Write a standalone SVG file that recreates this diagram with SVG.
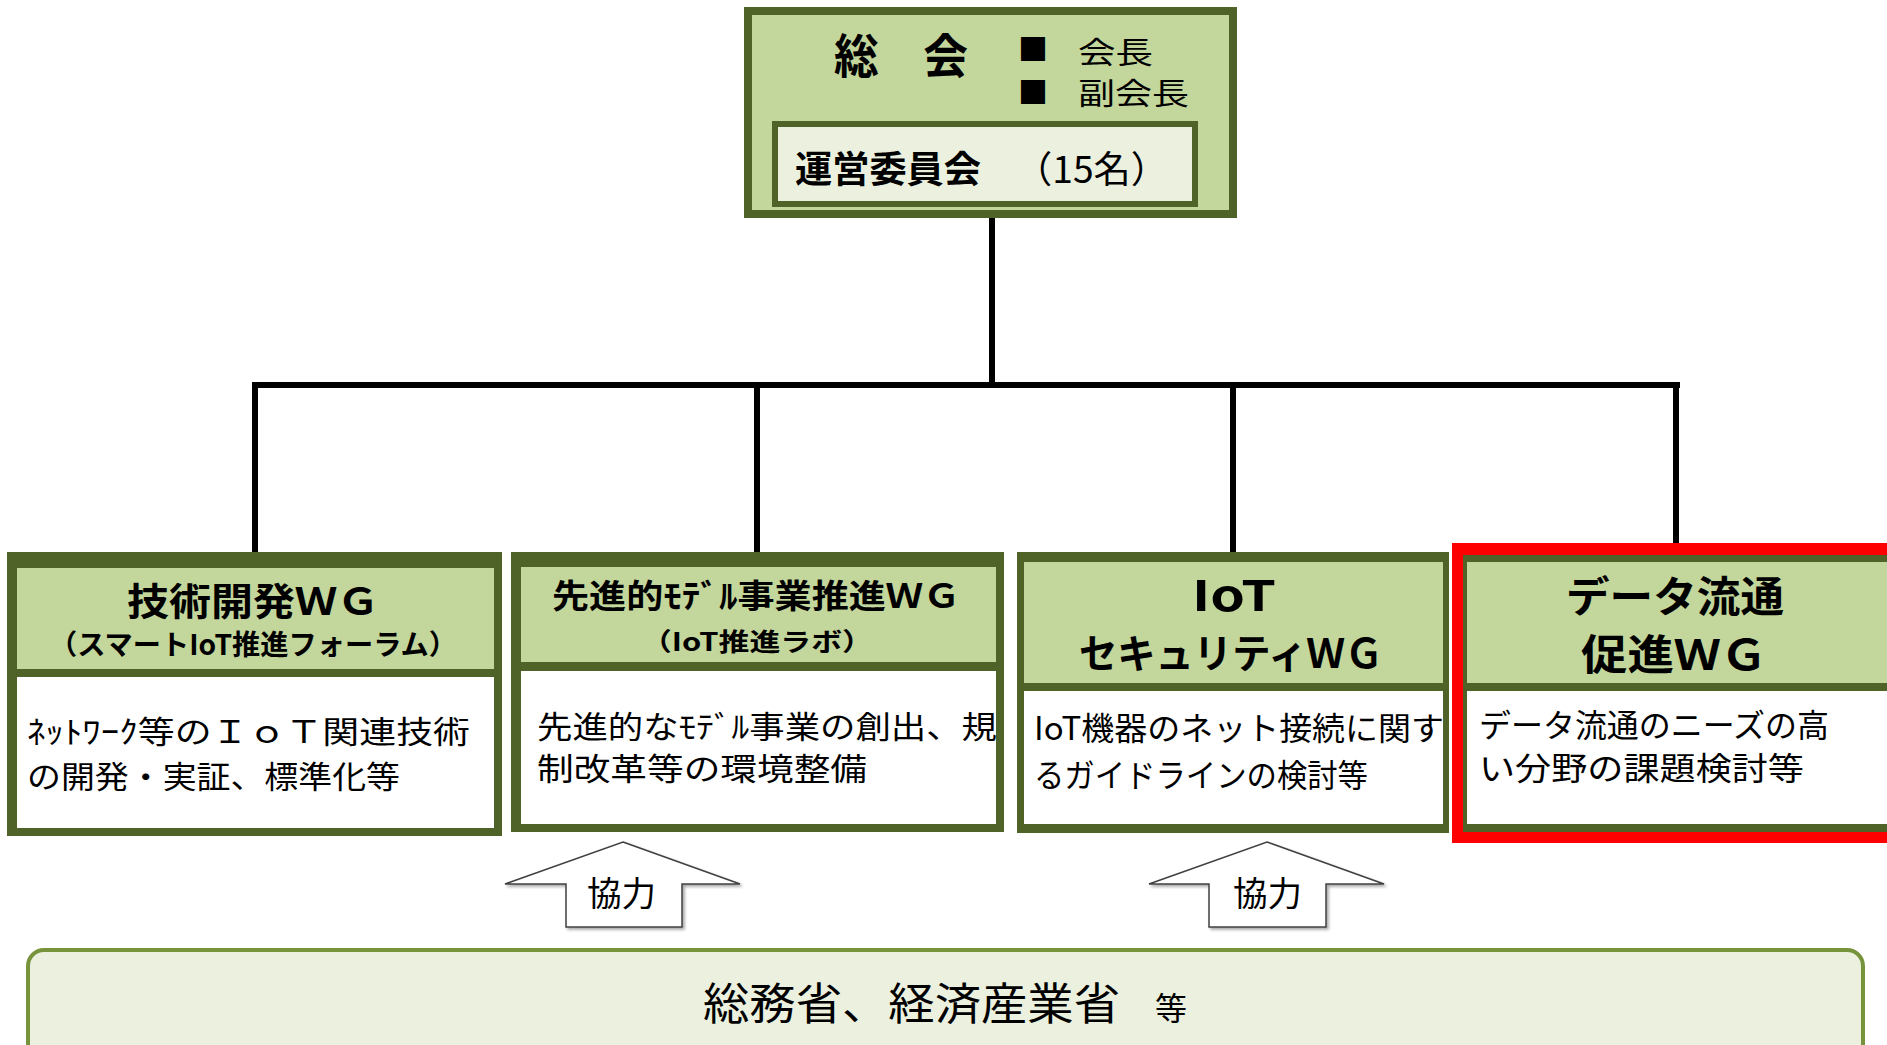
<svg xmlns="http://www.w3.org/2000/svg" width="1887" height="1045" viewBox="0 0 1887 1045">
<style>
text{font-family:"Noto Sans CJK JP","Noto Sans CJK SC",sans-serif;fill:#000}
.b{font-weight:bold}
.hdr{fill:#c3d69b}
.dk{fill:#4f6228}
.body{fill:#ffffff}
.conn{stroke:#000;stroke-width:6;fill:none;stroke-linecap:square}
.arrow{fill:#fff;stroke:#404040;stroke-width:1.5;stroke-linejoin:miter}
</style>
<defs>
<filter id="sh" x="-10%" y="-10%" width="130%" height="130%">
<feDropShadow dx="2" dy="2" stdDeviation="1.5" flood-color="#000" flood-opacity="0.35"/>
</filter>
</defs>
<rect width="1887" height="1045" fill="#fff"/>

<g id="connectors">
<path class="conn" d="M992,218 V385"/>
<path class="conn" d="M255,385 H1677"/>
<path class="conn" d="M255,385 V556"/>
<path class="conn" d="M757,385 V552"/>
<path class="conn" d="M1233,385 V552"/>
<path class="conn" d="M1676,385 V543"/>
</g>

<g id="soukai">
<rect x="748" y="11" width="485" height="203" fill="#c3d69b" stroke="#4f6228" stroke-width="8"/>
<text class="b" x="834" y="73" font-size="47" textLength="134" lengthAdjust="spacingAndGlyphs">総　会</text>
<text x="1018" y="60" font-size="30">■</text>
<text x="1018" y="103" font-size="30">■</text>
<text x="1078" y="63" font-size="30" textLength="75" lengthAdjust="spacingAndGlyphs">会長</text>
<text x="1078" y="104" font-size="30" textLength="111" lengthAdjust="spacingAndGlyphs">副会長</text>
</g>

<g id="unei">
<rect x="775" y="124" width="420" height="80" fill="#ebf1de" stroke="#4f6228" stroke-width="6"/>
<text class="b" x="795" y="183" font-size="37" textLength="186" lengthAdjust="spacingAndGlyphs">運営委員会</text>
<text x="1015" y="183" font-size="37" textLength="153" lengthAdjust="spacingAndGlyphs">（15名）</text>
</g>

<g id="wg1">
<rect class="dk" x="7" y="552" width="495" height="284"/>
<rect class="hdr" x="17" y="568" width="477" height="101"/>
<rect class="body" x="17" y="677" width="477" height="151"/>
<text class="b" x="253" y="615" font-size="38" text-anchor="middle" textLength="252" lengthAdjust="spacingAndGlyphs">技術開発ＷＧ</text>
<text class="b" x="253" y="655" font-size="28" text-anchor="middle" textLength="408" lengthAdjust="spacingAndGlyphs">（スマートIoT推進フォーラム）</text>
<text x="27" y="743" font-size="31" textLength="443" lengthAdjust="spacingAndGlyphs">ﾈｯﾄﾜｰｸ等のＩｏＴ関連技術</text>
<text x="27" y="788" font-size="31" textLength="373" lengthAdjust="spacingAndGlyphs">の開発・実証、標準化等</text>
</g>

<g id="wg2">
<rect class="dk" x="511" y="552" width="493" height="280"/>
<rect class="hdr" x="521" y="567" width="475" height="95"/>
<rect class="body" x="521" y="671" width="475" height="153"/>
<text class="b" x="756" y="608" font-size="33" text-anchor="middle" textLength="408" lengthAdjust="spacingAndGlyphs">先進的ﾓﾃﾞﾙ事業推進ＷＧ</text>
<text class="b" x="757" y="651" font-size="25" text-anchor="middle" textLength="232" lengthAdjust="spacingAndGlyphs">（IoT推進ラボ）</text>
<text x="537" y="738" font-size="31" textLength="460" lengthAdjust="spacingAndGlyphs">先進的なﾓﾃﾞﾙ事業の創出、規</text>
<text x="537" y="780" font-size="31" textLength="330" lengthAdjust="spacingAndGlyphs">制改革等の環境整備</text>
</g>

<g id="wg3">
<rect class="dk" x="1017" y="552" width="432" height="281"/>
<rect class="hdr" x="1024" y="562" width="419" height="121"/>
<rect class="body" x="1024" y="691" width="419" height="133"/>
<text class="b" x="1234" y="611" font-size="42" text-anchor="middle" textLength="84" lengthAdjust="spacingAndGlyphs">IoT</text>
<text class="b" x="1231" y="668" font-size="40" text-anchor="middle" textLength="304" lengthAdjust="spacingAndGlyphs">セキュリティＷＧ</text>
<text x="1034" y="740" font-size="32" textLength="410" lengthAdjust="spacingAndGlyphs">IoT機器のネット接続に関す</text>
<text x="1034" y="787" font-size="32" textLength="334" lengthAdjust="spacingAndGlyphs">るガイドラインの検討等</text>
</g>

<g id="wg4">
<rect x="1452" y="543" width="450" height="300" fill="#ff0000"/>
<rect class="dk" x="1463" y="555" width="440" height="277"/>
<rect class="hdr" x="1467" y="562" width="430" height="121"/>
<rect class="body" x="1467" y="691" width="430" height="133"/>
<text class="b" x="1675" y="612" font-size="42" text-anchor="middle" textLength="218" lengthAdjust="spacingAndGlyphs">データ流通</text>
<text class="b" x="1674" y="670" font-size="42" text-anchor="middle" textLength="186" lengthAdjust="spacingAndGlyphs">促進ＷＧ</text>
<text x="1479" y="737" font-size="32" textLength="350" lengthAdjust="spacingAndGlyphs">データ流通のニーズの高</text>
<text x="1479" y="780" font-size="32" textLength="325" lengthAdjust="spacingAndGlyphs">い分野の課題検討等</text>
</g>

<g id="arrow1">
<polygon class="arrow" filter="url(#sh)" points="623,842 740,884 682,884 682,927 566,927 566,884 505,884"/>
<text x="587" y="906" font-size="34" textLength="69" lengthAdjust="spacingAndGlyphs">協力</text>
</g>

<g id="arrow2">
<polygon class="arrow" filter="url(#sh)" points="1267,842 1384,884 1326,884 1326,927 1209,927 1209,884 1149,884"/>
<text x="1233" y="906" font-size="34" textLength="69" lengthAdjust="spacingAndGlyphs">協力</text>
</g>

<g id="ministries">
<rect x="28" y="950" width="1835" height="120" rx="16" fill="#ebf1de" stroke="#77933c" stroke-width="4"/>
<text x="703" y="1020" font-size="44" textLength="417" lengthAdjust="spacingAndGlyphs">総務省、経済産業省</text>
<text x="1155" y="1020" font-size="32">等</text>
</g>
</svg>
